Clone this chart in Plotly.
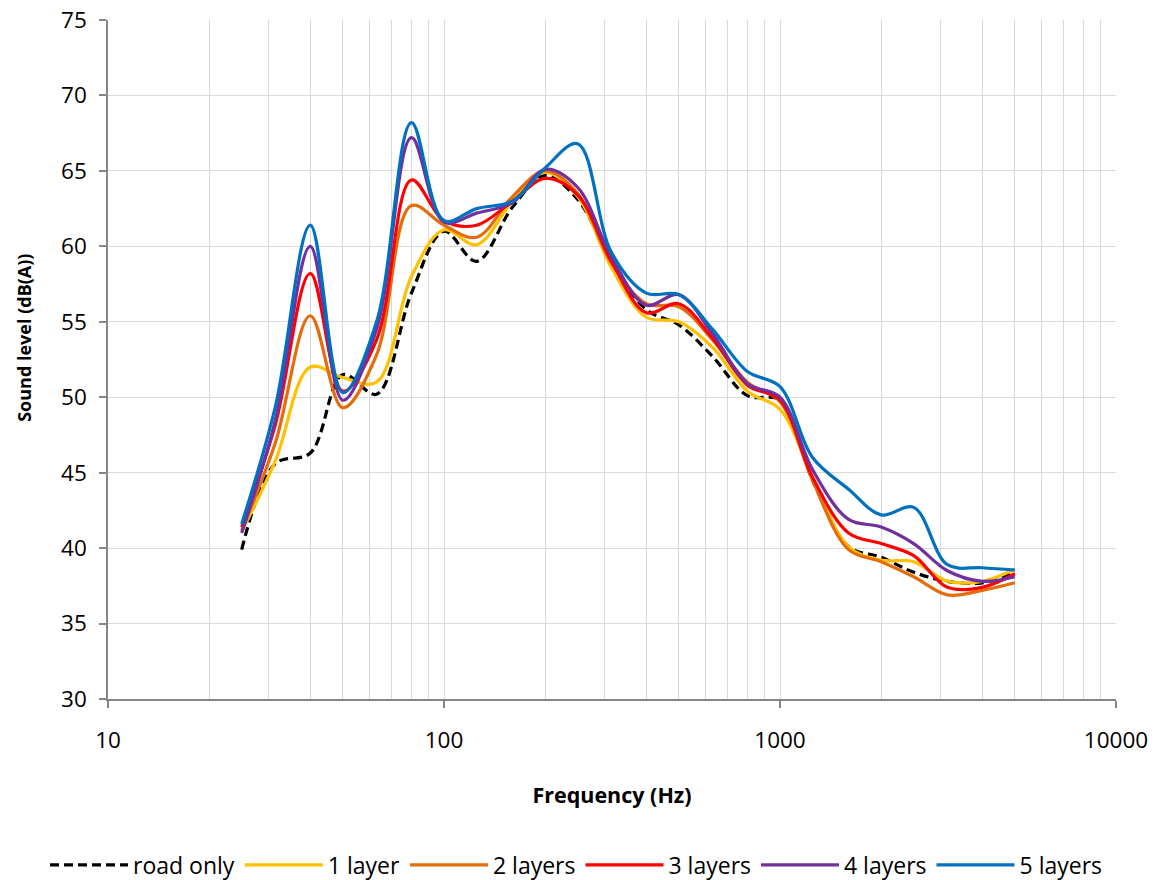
import plotly.graph_objects as go

freqs = [25, 31.5, 40, 50, 63, 80, 100, 125, 160, 200, 250, 315, 400, 500,
         630, 800, 1000, 1250, 1600, 2000, 2500, 3150, 4000, 5000]

road_only = [39.9, 45.6, 46.3, 51.5, 50.2, 56.9, 61.0, 59.0, 62.6, 64.7, 63.1, 59.0,
             55.8, 54.8, 52.7, 50.1, 49.8, 44.5, 40.1, 39.4, 38.4, 37.8, 37.7, 38.4]
layer1 = [41.1, 45.8, 52.0, 51.3, 51.0, 58.0, 61.1, 60.1, 63.0, 64.9, 63.3, 58.6,
          55.3, 55.0, 53.3, 50.4, 49.2, 44.7, 40.1, 39.2, 39.1, 37.8, 37.8, 38.6]
layer2 = [41.2, 47.0, 55.4, 49.3, 52.8, 62.7, 61.4, 60.6, 63.3, 65.0, 63.5, 58.9,
          56.2, 56.0, 53.8, 51.0, 49.7, 44.5, 39.9, 39.1, 38.1, 36.9, 37.2, 37.7]
layer3 = [41.4, 48.2, 58.2, 50.4, 53.8, 64.4, 61.7, 61.4, 63.0, 64.5, 63.4, 59.0,
          55.6, 56.2, 53.9, 50.8, 49.8, 44.7, 41.0, 40.3, 39.5, 37.4, 37.4, 38.3]
layer4 = [41.0, 48.5, 60.0, 49.8, 54.5, 67.2, 61.6, 62.2, 62.9, 65.1, 63.9, 59.3,
          56.1, 56.8, 54.2, 50.9, 50.0, 45.2, 41.9, 41.4, 40.3, 38.5, 37.8, 38.1]
layer5 = [41.6, 49.4, 61.4, 50.3, 55.0, 68.2, 61.7, 62.5, 63.0, 65.2, 66.8, 59.6,
          56.9, 56.8, 54.5, 51.7, 50.7, 46.0, 43.9, 42.2, 42.7, 38.9, 38.7, 38.55]

series_names = ["road only", "1 layer", "2 layers", "3 layers", "4 layers", "5 layers"]
series_values = [road_only, layer1, layer2, layer3, layer4, layer5]
series_colors = ["#000000", "#FFC000", "#E46C0A", "#FF0000", "#7030A0", "#0070C0"]
series_dash = ["9px,5px", "solid", "solid", "solid", "solid", "solid"]

x_major = [10, 100, 1000, 10000]
x_minor = [m * d for d in (10, 100, 1000) for m in range(2, 10)]
y_ticks = list(range(30, 80, 5))

x_title = "Frequency (Hz)"
y_title = "Sound level (dB(A))"

FONT = "Open Sans"

fig = go.Figure()
for name, vals, col, dash in zip(series_names, series_values, series_colors, series_dash):
    fig.add_trace(go.Scatter(
        x=freqs, y=vals, name=name, mode="lines",
        line=dict(color=col, width=3.2, dash=dash, shape="spline", smoothing=1.0),
    ))

fig.update_layout(
    width=1159, height=880,
    margin=dict(l=108, r=43, t=20, b=181, autoexpand=False),
    paper_bgcolor="white", plot_bgcolor="white",
    font=dict(family=FONT, size=20, color="#000000"),
    showlegend=True,
    legend=dict(
        orientation="h", xref="paper", yref="paper",
        x=-0.0625, xanchor="left", y=-0.2445, yanchor="middle",
        font=dict(family=FONT, size=23), itemwidth=78,
        bgcolor="rgba(0,0,0,0)", traceorder="normal",
    ),
    annotations=[dict(
        text="<b>" + y_title + "</b>", textangle=-90,
        xref="paper", yref="paper", x=-0.0833, y=0.532,
        xanchor="center", yanchor="middle", showarrow=False,
        font=dict(family=FONT, size=18, color="#000000"),
    )],
)

fig.update_xaxes(
    type="log", range=[1, 4],
    tickmode="array", tickvals=x_major, ticktext=[str(v) for v in x_major],
    showgrid=True, gridcolor="#d9d9d9", gridwidth=1.3,
    minor=dict(tickmode="array", tickvals=x_minor, showgrid=True,
               gridcolor="#d9d9d9", gridwidth=1.3, ticks=""),
    showline=True, linecolor="#868686", linewidth=1.5,
    ticks="outside", ticklen=7, tickcolor="#868686", tickwidth=1.5,
    ticklabelstandoff=13,
    tickfont=dict(family=FONT, size=22.5),
    title=dict(text="<b>" + x_title + "</b>", font=dict(family=FONT, size=21.5), standoff=34),
    automargin=False, zeroline=False,
)
fig.update_yaxes(
    range=[30, 75],
    tickmode="array", tickvals=y_ticks, ticktext=[str(v) for v in y_ticks],
    showgrid=True, gridcolor="#d9d9d9", gridwidth=1.3,
    showline=True, linecolor="#868686", linewidth=1.5,
    ticks="outside", ticklen=7, tickcolor="#868686", tickwidth=1.5,
    ticklabelstandoff=8,
    tickfont=dict(family=FONT, size=22.5),
    automargin=False, zeroline=False,
)

# remove the browser's default 8px body margin so the figure sits at the page origin
fig.write_html("out.html", config={"displayModeBar": False},
               post_script="document.body.style.margin='0px';")
